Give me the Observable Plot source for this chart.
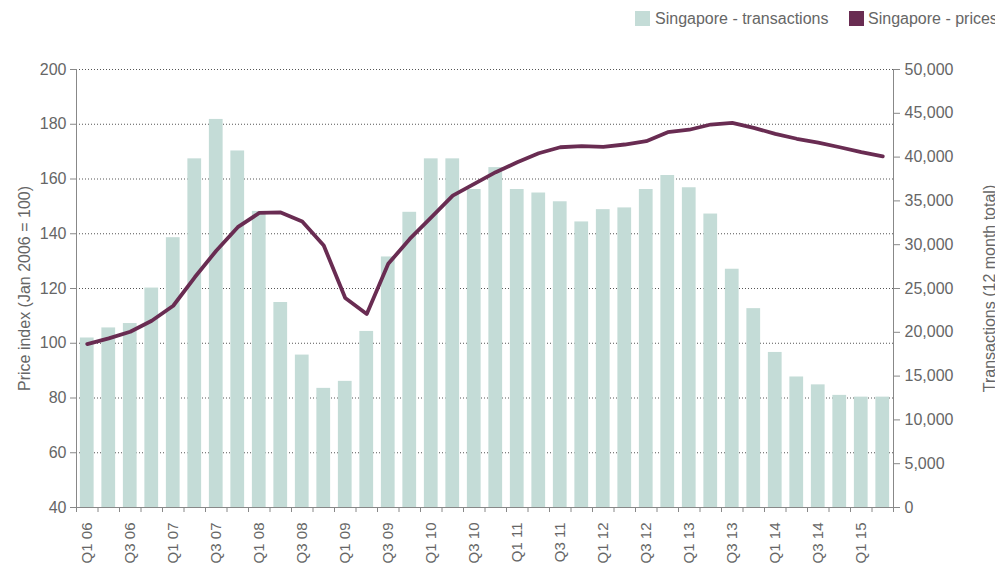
<!DOCTYPE html>
<html><head><meta charset="utf-8">
<script src="https://cdn.jsdelivr.net/npm/d3@7"></script>
<script src="https://cdn.jsdelivr.net/npm/@observablehq/plot@0.6"></script>
<style>
body{margin:0;background:#fff;overflow:hidden;font-family:"Liberation Sans",Arial,sans-serif;width:995px;height:565px;}
#legend{position:relative;height:40px;white-space:nowrap;}
.sw{position:absolute;top:11px;width:15px;height:15px;}
.lt{position:absolute;top:10px;font-size:16px;line-height:18px;color:#666;}
</style></head>
<body>
<div id="legend">
  <div class="sw" style="left:635px;background:#c4dcd7"></div>
  <div class="lt" style="left:655px">Singapore - transactions</div>
  <div class="sw" style="left:849px;background:#692c52"></div>
  <div class="lt" style="left:868px">Singapore - prices</div>
</div>
<div id="chart"></div>
<script>
const quarters = ["Q1 06","Q2 06","Q3 06","Q4 06","Q1 07","Q2 07","Q3 07","Q4 07","Q1 08","Q2 08","Q3 08","Q4 08","Q1 09","Q2 09","Q3 09","Q4 09","Q1 10","Q2 10","Q3 10","Q4 10","Q1 11","Q2 11","Q3 11","Q4 11","Q1 12","Q2 12","Q3 12","Q4 12","Q1 13","Q2 13","Q3 13","Q4 13","Q1 14","Q2 14","Q3 14","Q4 14","Q1 15","Q2 15"];
const transactions = [19350,20500,21000,25050,30800,39800,44300,40700,33800,23400,17400,13600,14400,20100,28600,33700,39800,39800,36300,38800,36300,35900,34900,32600,34000,34200,36300,37900,36500,33500,27200,22700,17700,14900,14000,12800,12600,12600];
const prices = [99.7,101.8,104.2,108.2,113.7,124.1,133.8,142.4,147.6,147.8,144.5,135.7,116.5,110.7,129.0,138.1,146.0,153.9,158.2,162.5,166.1,169.4,171.6,172.0,171.7,172.6,173.8,177.1,178.0,179.9,180.5,178.7,176.5,174.7,173.3,171.6,169.8,168.3];
const leftTicks = [40,60,80,100,120,140,160,180,200];
const rightTicks = [0,5000,10000,15000,20000,25000,30000,35000,40000,45000,50000];
const leftLabel = "Price index (Jan 2006 = 100)";
const rightLabel = "Transactions (12 month total)";

const yMin = 40, yMax = 200, tMax = 50000;
const toPrice = t => yMin + t / tMax * (yMax - yMin);
const data = quarters.map((q, i) => ({q, i, t: transactions[i], p: prices[i]}));
const fmt = d3.format(",");

const chart = Plot.plot({
  width: 995, height: 525,
  marginTop: 29, marginBottom: 58, marginLeft: 76, marginRight: 102,
  style: {fontFamily: "Liberation Sans, Arial, sans-serif", fontSize: "16px", color: "#666", background: "#fff"},
  x: {type: "linear", domain: [0, quarters.length], axis: null},
  y: {domain: [yMin, yMax], axis: null},
  marks: [
    Plot.ruleY(leftTicks.slice(1), {stroke: "#555", strokeDasharray: "1,2", strokeWidth: 1}),
    Plot.rectY(data, {x1: d => d.i + 0.18, x2: d => d.i + 0.82, y1: yMin, y2: d => toPrice(d.t), fill: "#c4dcd7"}),
    Plot.line(data, {x: d => d.i + 0.5, y: "p", stroke: "#692c52", strokeWidth: 3.8, strokeLinejoin: "round", strokeLinecap: "round"}),
    Plot.ruleX([0, quarters.length], {stroke: "#888"}),
    Plot.ruleY([yMin], {stroke: "#888"}),
    Plot.axisY({anchor: "left", ticks: leftTicks, tickSize: 6, tickPadding: 4, label: null, stroke: "#888", fill: "#666"}),
    Plot.axisY({anchor: "right", ticks: rightTicks.map(toPrice), tickFormat: d => fmt(Math.round((d - yMin) / (yMax - yMin) * tMax)), tickSize: 6, tickPadding: 5, label: null, stroke: "#888", fill: "#666"}),
    Plot.axisX({ticks: d3.range(0, quarters.length + 1), tickSize: 5, tickFormat: () => "", label: null, stroke: "#888"}),
    Plot.axisX({ticks: d3.range(0.5, quarters.length, 2), tickFormat: v => quarters[Math.floor(v)], tickSize: 0, tickPadding: 15, tickRotate: -90, fontSize: 15, label: null, fill: "#666"}),
    Plot.text([leftLabel], {frameAnchor: "left", textAnchor: "middle", lineAnchor: "middle", dx: -52, rotate: -90, fontSize: 16, fill: "#666"}),
    Plot.text([rightLabel], {frameAnchor: "right", textAnchor: "middle", lineAnchor: "middle", dx: 96, rotate: -90, fontSize: 16, fill: "#666"})
  ]
});
document.getElementById("chart").appendChild(chart);
</script>
</body></html>
